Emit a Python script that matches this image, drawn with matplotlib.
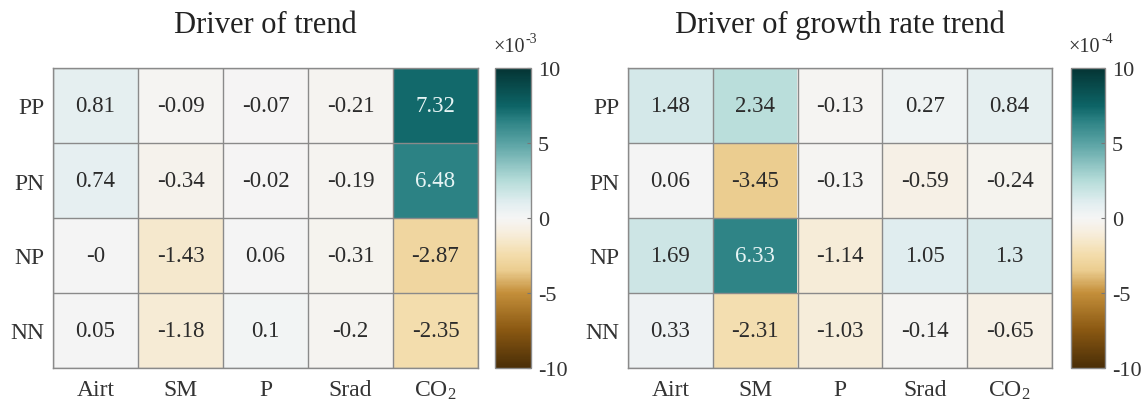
import numpy as np
import matplotlib
matplotlib.use("Agg")
import matplotlib.pyplot as plt
from matplotlib.colors import LinearSegmentedColormap

plt.rcParams['font.family'] = ['Liberation Serif', 'DejaVu Serif']
plt.rcParams['mathtext.fontset'] = 'custom'
plt.rcParams['mathtext.rm'] = 'Liberation Serif'
plt.rcParams['mathtext.default'] = 'regular'

rows = ["PP", "PN", "NP", "NN"]
cols = ["Airt", "SM", "P", "Srad", "CO$_2$"]

trend = np.array([
    [0.81, -0.09, -0.07, -0.21, 7.32],
    [0.74, -0.34, -0.02, -0.19, 6.48],
    [-0.0, -1.43, 0.06, -0.31, -2.87],
    [0.05, -1.18, 0.10, -0.20, -2.35],
])
growth = np.array([
    [1.48, 2.34, -0.13, 0.27, 0.84],
    [0.06, -3.45, -0.13, -0.59, -0.24],
    [1.69, 6.33, -1.14, 1.05, 1.30],
    [0.33, -2.31, -1.03, -0.14, -0.65],
])
titles = ["Driver of trend", "Driver of growth rate trend"]
exponents = ["-3", "-4"]
cbar_ticks = [-10, -5, 0, 5, 10]

stops = [(-10, "#4a2e07"), (-7.5, "#8a5812"), (-5, "#c48f3a"), (-3.5, "#ebcd90"),
         (-2.5, "#f3dcaa"), (-1, "#f7eedd"), (0, "#f5f5f5"), (1, "#e2eef0"),
         (2.5, "#b5dcd9"), (5, "#5aa3a4"), (6.5, "#2c8284"), (7.5, "#0d6466"),
         (10, "#043434")]
cmap = LinearSegmentedColormap.from_list(
    "drv", [((v + 10) / 20, c) for v, c in stops])

W, H = 1144, 414
fig = plt.figure(figsize=(W / 100, H / 100), dpi=100)

def px(x0, y0, x1, y1):
    return [x0 / W, 1 - y1 / H, (x1 - x0) / W, (y1 - y0) / H]

layouts = [
    (px(53, 69, 478, 369), px(495, 69, 531, 369)),
    (px(628, 69, 1052, 369), px(1071, 69, 1105, 369)),
]

for data, title, expo, (axpos, cpos) in zip([trend, growth], titles, exponents, layouts):
    ax = fig.add_axes(axpos)
    im = ax.imshow(data, cmap=cmap, vmin=-10, vmax=10, aspect='auto')
    nr, nc = data.shape
    for i in range(nr):
        for j in range(nc):
            v = data[i, j]
            color = "#e6f4f4" if abs(v) > 5 else "#2b2b2b"
            ax.text(j, i, f"{v:g}", ha='center', va='center', fontsize=16.5, color=color)
    ax.set_xticks(np.arange(nc))
    ax.set_xticklabels(cols, fontsize=17, color="#333333")
    ax.set_yticks(np.arange(nr))
    ax.set_yticklabels(rows, fontsize=17, color="#333333")
    ax.set_xticks(np.arange(nc + 1) - 0.5, minor=True)
    ax.set_yticks(np.arange(nr + 1) - 0.5, minor=True)
    ax.grid(which='minor', color="#8a8a8a", linewidth=1.0)
    ax.tick_params(which='both', length=0)
    ax.tick_params(axis='x', pad=8)
    ax.tick_params(axis='y', pad=6)
    for s in ax.spines.values():
        s.set_color("#8a8a8a")
        s.set_linewidth(1.0)
    ax.set_title(title, fontsize=22, color="#222222", pad=26)

    cax = fig.add_axes(cpos)
    cb = fig.colorbar(im, cax=cax, ticks=cbar_ticks)
    cb.outline.set_edgecolor("#8a8a8a")
    cb.outline.set_linewidth(1.0)
    cax.tick_params(direction='in', length=3, color="#777777", labelsize=16,
                    labelcolor="#333333", pad=5)
    cax.set_yticklabels([f"{t:d}" for t in cbar_ticks])
    t1 = cax.text(0.4, 1.04, "×10", transform=cax.transAxes, ha='center', va='bottom',
                  fontsize=14.5, color="#333333")
    cax.annotate(expo, xy=(1, 0), xycoords=t1, xytext=(0.5, 8),
                 textcoords='offset points', ha='left', va='bottom',
                 fontsize=10, color="#333333")

fig.savefig("out.png", dpi=100, facecolor="white")
